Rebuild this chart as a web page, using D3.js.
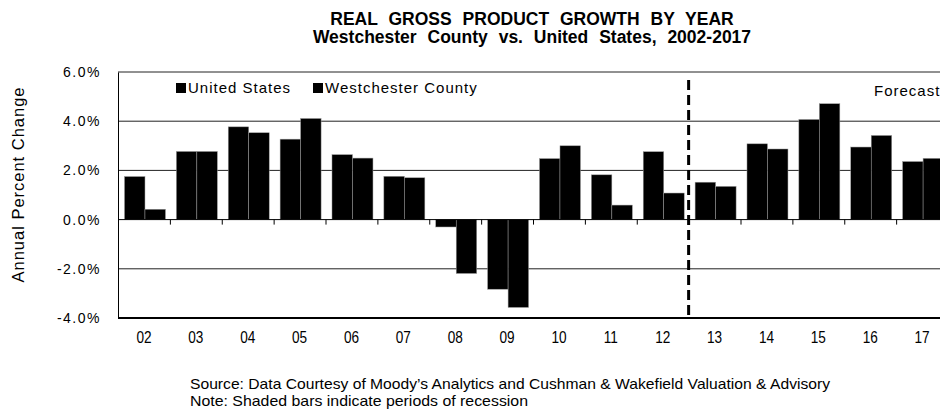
<!DOCTYPE html>
<html>
<head>
<meta charset="utf-8">
<script src="https://cdn.jsdelivr.net/npm/d3@7"></script>
<style>
  body { margin: 0; background: #fff; }
  svg { display: block; font-family: Arial, "Liberation Sans", sans-serif; }
</style>
</head>
<body>
<figure id="chart" style="margin:0"></figure>
<script>
const years = ["02","03","04","05","06","07","08","09","10","11","12","13","14","15","16","17"];
const seriesNames = ["United States", "Westchester County"];
const usGrowth = [1.75, 2.77, 3.77, 3.27, 2.64, 1.76, -0.30, -2.83, 2.48, 1.82, 2.76, 1.52, 3.08, 4.07, 2.95, 2.36];
const westchesterGrowth = [0.42, 2.77, 3.53, 4.11, 2.50, 1.70, -2.19, -3.57, 3.00, 0.59, 1.08, 1.35, 2.87, 4.71, 3.42, 2.49];
const yTicks = [-4, -2, 0, 2, 4, 6];
const forecastStart = "13";

const width = 940, height = 412;
const plot = { left: 118, right: 948, top: 72, bottom: 318 };
const narrow = 0.85; // x labels are set in a condensed face

const svg = d3.select("#chart").append("svg")
  .attr("width", width)
  .attr("height", height);

const x = d3.scaleBand()
  .domain(years)
  .range([plot.left, plot.right])
  .padding(0);

const xSub = d3.scaleBand()
  .domain(seriesNames)
  .range([x.bandwidth() * 0.125, x.bandwidth() * 0.915])
  .padding(0);

const y = d3.scaleLinear()
  .domain([-4, 6])
  .range([plot.bottom, plot.top]);

// titles
svg.append("text")
  .attr("x", 532).attr("y", 25)
  .attr("text-anchor", "middle")
  .attr("font-size", 17.5).attr("font-weight", "bold")
  .attr("word-spacing", 6)
  .text("REAL GROSS PRODUCT GROWTH BY YEAR");

svg.append("text")
  .attr("x", 532).attr("y", 43)
  .attr("text-anchor", "middle")
  .attr("font-size", 17.5).attr("font-weight", "bold")
  .attr("word-spacing", 6)
  .text("Westchester County vs. United States, 2002-2017");

// gridlines
svg.append("g")
  .selectAll("line")
  .data(yTicks.filter(d => d !== 0 && d !== -4))
  .enter().append("line")
  .attr("x1", plot.left).attr("x2", width)
  .attr("y1", d => y(d)).attr("y2", d => y(d))
  .attr("stroke", "#222").attr("stroke-width", 1);

// y axis
const yAxis = svg.append("g")
  .attr("transform", `translate(${plot.left},0)`)
  .call(d3.axisLeft(y).tickValues(yTicks).tickSize(0).tickPadding(17)
    .tickFormat(d => d.toFixed(1) + "%"));
yAxis.select(".domain").attr("stroke", "#000");
yAxis.selectAll("text")
  .attr("font-size", 14).attr("letter-spacing", 1.5)
  .attr("font-family", "Arial, 'Liberation Sans', sans-serif")
  .attr("fill", "#000");

svg.append("text")
  .attr("transform", "translate(24,185) rotate(-90)")
  .attr("text-anchor", "middle")
  .attr("font-size", 16.5)
  .attr("textLength", 195).attr("lengthAdjust", "spacing")
  .text("Annual Percent Change");

// bars
const groups = svg.append("g")
  .selectAll("g")
  .data(years.map((yr, i) => ({ year: yr, values: [usGrowth[i], westchesterGrowth[i]] })))
  .enter().append("g")
  .attr("transform", d => `translate(${x(d.year)},0)`);

groups.selectAll("rect")
  .data(d => seriesNames.map((name, j) => ({ key: name, value: d.values[j] })))
  .enter().append("rect")
  .attr("x", d => xSub(d.key))
  .attr("y", d => y(Math.max(0, d.value)))
  .attr("width", xSub.bandwidth())
  .attr("height", d => Math.abs(y(d.value) - y(0)))
  .attr("fill", "#000")
  .attr("stroke", "#999")
  .attr("stroke-width", 0.5);

// zero axis with ticks at band edges
svg.append("line")
  .attr("x1", plot.left).attr("x2", width)
  .attr("y1", y(0)).attr("y2", y(0))
  .attr("stroke", "#000").attr("stroke-width", 1);

svg.append("g")
  .selectAll("line")
  .data(years)
  .enter().append("line")
  .attr("x1", d => x(d) + 0.5).attr("x2", d => x(d) + 0.5)
  .attr("y1", y(0)).attr("y2", y(0) + 5)
  .attr("stroke", "#000");

// bottom axis line
svg.append("line")
  .attr("x1", plot.left).attr("x2", width)
  .attr("y1", y(-4)).attr("y2", y(-4))
  .attr("stroke", "#000").attr("stroke-width", 2);

// x labels
const xAxis = svg.append("g")
  .attr("transform", `translate(0,${plot.bottom})`)
  .call(d3.axisBottom(x).tickSize(0).tickPadding(14));
xAxis.select(".domain").remove();
xAxis.selectAll("text")
  .attr("font-size", 16)
  .attr("transform", `scale(${narrow},1)`)
  .attr("fill", "#000");

// forecast divider
svg.append("line")
  .attr("x1", x(forecastStart)).attr("x2", x(forecastStart))
  .attr("y1", plot.top + 8).attr("y2", plot.bottom)
  .attr("stroke", "#000").attr("stroke-width", 3)
  .attr("stroke-dasharray", "10,5");

svg.append("text")
  .attr("x", 874).attr("y", 96)
  .attr("font-size", 15).attr("letter-spacing", 1)
  .text("Forecast");

// legend
const legend = svg.append("g")
  .selectAll("g")
  .data(seriesNames)
  .enter().append("g")
  .attr("transform", (d, i) => `translate(${i === 0 ? 176 : 313},83)`);

legend.append("rect")
  .attr("width", 10).attr("height", 10)
  .attr("fill", "#000");

legend.append("text")
  .attr("x", 12).attr("y", 10)
  .attr("font-size", 15).attr("letter-spacing", 1)
  .text(d => d);

// footnotes
svg.append("text")
  .attr("x", 190).attr("y", 389)
  .attr("font-size", 15)
  .attr("textLength", 640).attr("lengthAdjust", "spacingAndGlyphs")
  .text("Source: Data Courtesy of Moody\u2019s Analytics and Cushman & Wakefield Valuation & Advisory");

svg.append("text")
  .attr("x", 190).attr("y", 406)
  .attr("font-size", 15)
  .attr("textLength", 338).attr("lengthAdjust", "spacingAndGlyphs")
  .text("Note: Shaded bars indicate periods of recession");
</script>
</body>
</html>
